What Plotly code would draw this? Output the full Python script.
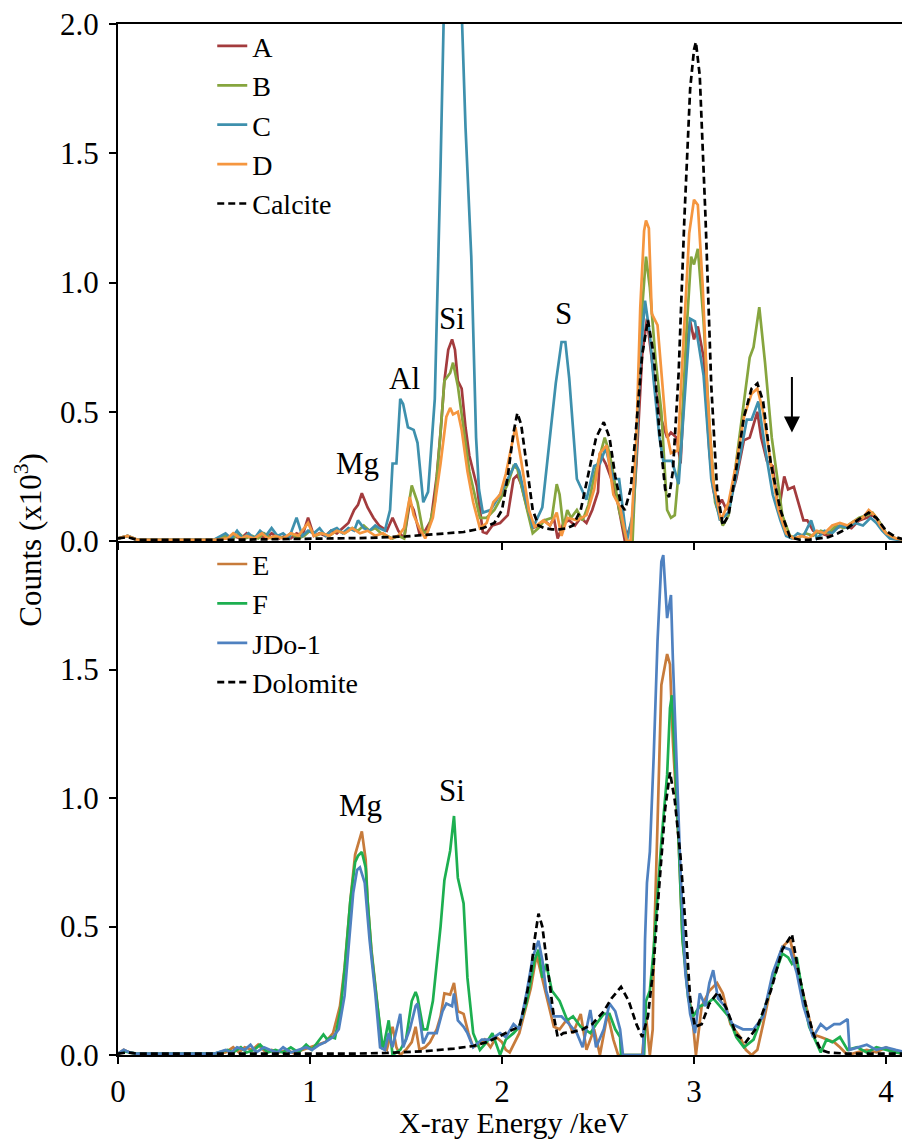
import plotly.graph_objects as go

# ---------------- data (energy in keV, counts in x10^3) ----------------
# Top panel
A_x = [0.00,0.05,0.10,0.20,0.30,0.40,0.50,0.56,0.60,0.64,0.67,0.70,0.74,0.77,0.80,0.84,0.87,0.90,0.93,0.96,0.99,1.02,1.05,1.08,1.11,1.14,1.17,1.20,1.23,1.25,1.27,1.30,1.33,1.36,1.40,1.43,1.46,1.49,1.52,1.54,1.57,1.60,1.63,1.66,1.68,1.70,1.72,1.74,1.755,1.77,1.79,1.81,1.83,1.87,1.90,1.92,1.95,1.99,2.03,2.06,2.08,2.10,2.13,2.16,2.19,2.22,2.25,2.27,2.29,2.32,2.35,2.38,2.41,2.44,2.47,2.50,2.51,2.54,2.57,2.60,2.64,2.68,2.70,2.73,2.755,2.78,2.80,2.83,2.86,2.88,2.91,2.93,2.96,2.98,3.00,3.02,3.05,3.08,3.10,3.12,3.145,3.17,3.19,3.22,3.26,3.29,3.33,3.35,3.38,3.41,3.44,3.47,3.49,3.52,3.54,3.57,3.59,3.62,3.66,3.70,3.74,3.78,3.82,3.86,3.90,3.93,3.96,4.00,4.05,4.10,4.14]
A_y = [0.01,0.02,0.005,0.005,0.005,0.005,0.005,0.01,0.02,0.01,0.03,0.01,0.02,0.01,0.03,0.01,0.02,0.01,0.03,0.02,0.09,0.02,0.03,0.02,0.04,0.03,0.05,0.07,0.12,0.14,0.185,0.13,0.09,0.06,0.04,0.09,0.04,0.01,0.15,0.12,0.03,0.04,0.08,0.25,0.42,0.62,0.74,0.78,0.74,0.62,0.59,0.44,0.33,0.21,0.035,0.03,0.06,0.07,0.10,0.24,0.255,0.22,0.13,0.05,0.06,0.08,0.06,0.09,0.01,0.07,0.08,0.06,0.09,0.07,0.12,0.19,0.34,0.30,0.24,0.16,0.0,0.08,0.30,0.72,0.86,0.70,0.58,0.47,0.40,0.42,0.40,0.30,0.74,0.85,0.78,0.83,0.71,0.35,0.20,0.13,0.16,0.12,0.16,0.24,0.39,0.40,0.50,0.40,0.31,0.29,0.11,0.25,0.20,0.21,0.16,0.08,0.08,0.04,0.03,0.02,0.05,0.06,0.05,0.08,0.09,0.10,0.08,0.03,0.01,0.005,0.005]

B_x = [0.00,0.05,0.10,0.20,0.30,0.40,0.50,0.56,0.60,0.63,0.66,0.70,0.73,0.76,0.80,0.83,0.87,0.90,0.94,0.97,1.00,1.03,1.06,1.10,1.14,1.18,1.22,1.25,1.28,1.31,1.34,1.37,1.40,1.43,1.46,1.49,1.51,1.53,1.56,1.59,1.615,1.65,1.68,1.70,1.73,1.745,1.77,1.80,1.83,1.885,1.92,1.96,1.99,2.03,2.06,2.08,2.10,2.13,2.16,2.19,2.22,2.26,2.285,2.30,2.32,2.34,2.36,2.39,2.42,2.45,2.48,2.51,2.535,2.56,2.58,2.61,2.65,2.68,2.70,2.72,2.75,2.77,2.80,2.83,2.86,2.88,2.90,2.93,2.96,2.985,3.00,3.02,3.05,3.08,3.11,3.15,3.18,3.21,3.25,3.29,3.31,3.34,3.37,3.405,3.44,3.46,3.50,3.54,3.58,3.62,3.66,3.70,3.74,3.78,3.82,3.86,3.90,3.93,3.96,4.00,4.05,4.10,4.14]
B_y = [0.01,0.02,0.005,0.005,0.005,0.005,0.005,0.02,0.01,0.03,0.01,0.02,0.01,0.03,0.01,0.02,0.01,0.03,0.01,0.02,0.04,0.02,0.03,0.02,0.04,0.03,0.05,0.04,0.06,0.04,0.05,0.03,0.02,0.01,0.02,0.01,0.12,0.215,0.15,0.03,0.04,0.15,0.42,0.62,0.65,0.69,0.60,0.43,0.27,0.09,0.09,0.12,0.16,0.22,0.29,0.28,0.22,0.13,0.03,0.05,0.08,0.09,0.22,0.18,0.05,0.12,0.09,0.12,0.08,0.14,0.25,0.33,0.40,0.34,0.26,0.12,0.0,0.0,0.35,0.80,1.10,0.98,0.70,0.50,0.12,0.09,0.10,0.35,0.80,1.10,1.07,1.13,0.85,0.45,0.15,0.06,0.10,0.25,0.48,0.71,0.75,0.905,0.69,0.40,0.21,0.10,0.02,0.01,0.03,0.02,0.04,0.03,0.06,0.05,0.07,0.09,0.10,0.11,0.08,0.03,0.01,0.005,0.005]

C_x = [0.00,0.05,0.10,0.20,0.30,0.40,0.50,0.56,0.59,0.62,0.65,0.68,0.71,0.74,0.77,0.80,0.83,0.86,0.89,0.93,0.96,0.99,1.02,1.05,1.08,1.11,1.14,1.17,1.20,1.23,1.25,1.28,1.31,1.34,1.36,1.39,1.417,1.43,1.45,1.47,1.485,1.51,1.54,1.56,1.59,1.615,1.65,1.68,1.71,1.77,1.81,1.84,1.865,1.88,1.90,1.94,1.99,2.03,2.07,2.09,2.12,2.15,2.16,2.21,2.25,2.28,2.31,2.33,2.35,2.39,2.44,2.48,2.51,2.54,2.58,2.61,2.65,2.68,2.70,2.72,2.745,2.77,2.79,2.82,2.84,2.885,2.92,2.96,2.98,3.005,3.05,3.09,3.135,3.18,3.23,3.275,3.30,3.335,3.37,3.41,3.45,3.48,3.51,3.54,3.57,3.59,3.61,3.64,3.68,3.72,3.76,3.80,3.84,3.88,3.92,3.95,3.98,4.02,4.06,4.10,4.14]
C_y = [0.01,0.02,0.005,0.005,0.005,0.005,0.005,0.03,0.01,0.04,0.01,0.03,0.01,0.04,0.02,0.05,0.02,0.03,0.01,0.09,0.02,0.04,0.03,0.05,0.02,0.04,0.05,0.03,0.05,0.04,0.08,0.05,0.04,0.06,0.05,0.04,0.12,0.30,0.30,0.55,0.53,0.44,0.43,0.38,0.15,0.19,0.55,1.45,2.50,2.50,1.60,1.10,0.40,0.20,0.11,0.12,0.18,0.24,0.30,0.27,0.17,0.09,0.05,0.13,0.40,0.61,0.77,0.77,0.63,0.24,0.16,0.29,0.30,0.36,0.24,0.24,0.0,0.10,0.35,0.70,0.93,0.80,0.62,0.40,0.31,0.31,0.22,0.65,0.86,0.85,0.64,0.24,0.08,0.11,0.29,0.47,0.47,0.54,0.36,0.18,0.08,0.02,0.01,0.03,0.02,0.05,0.08,0.01,0.04,0.03,0.06,0.05,0.07,0.06,0.09,0.07,0.04,0.01,0.005,0.005,0.005]

D_x = [0.00,0.05,0.10,0.20,0.30,0.40,0.50,0.57,0.60,0.64,0.67,0.71,0.75,0.78,0.82,0.86,0.90,0.94,0.99,1.02,1.06,1.10,1.14,1.18,1.22,1.26,1.30,1.34,1.38,1.42,1.46,1.49,1.52,1.54,1.57,1.60,1.64,1.68,1.71,1.73,1.745,1.77,1.79,1.82,1.85,1.885,1.92,1.955,1.99,2.02,2.07,2.10,2.14,2.17,2.215,2.25,2.285,2.31,2.34,2.39,2.44,2.48,2.51,2.545,2.58,2.615,2.65,2.67,2.70,2.72,2.74,2.75,2.765,2.78,2.81,2.855,2.88,2.915,2.94,2.975,3.00,3.02,3.045,3.07,3.10,3.14,3.18,3.22,3.26,3.30,3.33,3.36,3.40,3.44,3.48,3.52,3.56,3.60,3.64,3.68,3.72,3.76,3.80,3.84,3.88,3.91,3.94,3.97,4.00,4.05,4.10,4.14]
D_y = [0.01,0.02,0.005,0.005,0.005,0.005,0.005,0.01,0.03,0.01,0.02,0.01,0.03,0.01,0.02,0.01,0.03,0.02,0.07,0.02,0.03,0.02,0.04,0.03,0.05,0.03,0.04,0.02,0.03,0.01,0.02,0.05,0.17,0.10,0.05,0.01,0.09,0.30,0.48,0.515,0.49,0.50,0.43,0.27,0.15,0.05,0.07,0.15,0.18,0.26,0.44,0.31,0.12,0.055,0.08,0.06,0.11,0.02,0.09,0.08,0.10,0.20,0.34,0.37,0.18,0.13,0.0,0.0,0.40,0.90,1.20,1.24,1.21,0.88,0.835,0.43,0.34,0.35,0.71,1.19,1.32,1.30,0.99,0.57,0.23,0.08,0.15,0.30,0.48,0.57,0.59,0.50,0.30,0.12,0.03,0.01,0.02,0.01,0.04,0.03,0.06,0.07,0.06,0.08,0.09,0.12,0.10,0.06,0.03,0.01,0.005,0.005]

Calcite_x = [0.00,0.05,0.10,0.30,0.60,0.90,1.10,1.30,1.50,1.70,1.80,1.90,1.96,2.00,2.03,2.06,2.08,2.10,2.13,2.16,2.19,2.22,2.26,2.30,2.34,2.37,2.41,2.45,2.49,2.53,2.56,2.59,2.62,2.64,2.67,2.70,2.73,2.76,2.79,2.82,2.85,2.87,2.89,2.92,2.95,2.98,3.00,3.01,3.03,3.06,3.09,3.12,3.15,3.18,3.22,3.26,3.30,3.33,3.36,3.40,3.45,3.50,3.55,3.60,3.65,3.70,3.75,3.80,3.85,3.91,3.95,4.00,4.05,4.10,4.14]
Calcite_y = [0.01,0.015,0.005,0.005,0.005,0.008,0.01,0.012,0.018,0.028,0.035,0.05,0.07,0.12,0.25,0.42,0.495,0.45,0.28,0.12,0.06,0.05,0.045,0.045,0.05,0.06,0.12,0.26,0.40,0.46,0.40,0.25,0.14,0.12,0.20,0.45,0.72,0.855,0.72,0.42,0.20,0.17,0.27,0.65,1.25,1.75,1.90,1.93,1.80,1.25,0.60,0.20,0.06,0.10,0.28,0.48,0.59,0.61,0.54,0.30,0.12,0.015,0.005,0.005,0.01,0.015,0.03,0.05,0.08,0.11,0.09,0.04,0.015,0.005,0.005]

# Bottom panel
E_x = [0.00,0.03,0.06,0.10,0.30,0.50,0.56,0.60,0.63,0.66,0.70,0.73,0.77,0.80,0.84,0.88,0.92,0.96,1.00,1.04,1.08,1.12,1.156,1.18,1.21,1.235,1.27,1.29,1.30,1.32,1.35,1.375,1.40,1.43,1.45,1.47,1.50,1.53,1.55,1.57,1.60,1.625,1.66,1.68,1.70,1.73,1.75,1.77,1.80,1.825,1.85,1.88,1.91,1.94,1.97,2.00,2.02,2.04,2.09,2.12,2.15,2.18,2.21,2.24,2.27,2.30,2.34,2.37,2.41,2.44,2.48,2.51,2.55,2.58,2.605,2.65,2.70,2.73,2.75,2.77,2.785,2.79,2.81,2.83,2.86,2.875,2.89,2.92,2.94,2.97,2.995,3.01,3.04,3.08,3.12,3.15,3.19,3.24,3.27,3.30,3.33,3.36,3.41,3.46,3.50,3.535,3.58,3.62,3.66,3.70,3.73,3.76,3.80,3.85,3.90,3.95,4.00,4.05,4.10,4.14]
E_y = [0.005,0.02,0.01,0.005,0.005,0.005,0.01,0.03,0.01,0.03,0.02,0.04,0.01,0.02,0.01,0.02,0.005,0.02,0.03,0.04,0.05,0.085,0.19,0.34,0.60,0.78,0.87,0.76,0.60,0.41,0.21,0.03,0.02,0.11,0.03,0.0,0.02,0.05,0.11,0.02,0.03,0.05,0.10,0.15,0.24,0.235,0.28,0.17,0.16,0.085,0.03,0.04,0.06,0.03,0.07,0.05,0.02,0.01,0.085,0.17,0.26,0.39,0.30,0.21,0.11,0.10,0.14,0.085,0.16,0.02,0.10,0.0,0.16,0.06,0.0,0.0,0.0,0.0,0.15,0.0,0.10,0.38,0.90,1.44,1.56,1.52,1.22,0.83,0.45,0.25,0.12,0.0,0.19,0.25,0.28,0.24,0.12,0.07,0.02,0.0,0.02,0.12,0.30,0.42,0.45,0.34,0.21,0.08,0.07,0.06,0.05,0.03,0.0,0.01,0.02,0.01,0.03,0.01,0.005,0.005]

F_x = [0.00,0.03,0.06,0.10,0.30,0.50,0.57,0.60,0.64,0.67,0.71,0.74,0.78,0.82,0.86,0.90,0.94,0.98,1.01,1.04,1.07,1.09,1.11,1.13,1.16,1.18,1.21,1.235,1.25,1.27,1.29,1.30,1.32,1.35,1.38,1.41,1.43,1.47,1.50,1.53,1.55,1.56,1.59,1.61,1.64,1.68,1.70,1.73,1.75,1.77,1.80,1.82,1.85,1.885,1.92,1.95,1.99,2.02,2.06,2.09,2.13,2.17,2.19,2.21,2.23,2.26,2.30,2.34,2.37,2.41,2.46,2.49,2.53,2.56,2.59,2.615,2.62,2.70,2.74,2.75,2.77,2.79,2.81,2.83,2.86,2.875,2.885,2.90,2.92,2.94,2.97,2.995,3.03,3.07,3.10,3.135,3.18,3.22,3.26,3.31,3.36,3.41,3.46,3.49,3.51,3.535,3.57,3.60,3.66,3.69,3.72,3.76,3.80,3.85,3.90,3.95,4.00,4.05,4.10,4.14]
F_y = [0.005,0.015,0.01,0.005,0.005,0.005,0.02,0.01,0.03,0.01,0.02,0.04,0.01,0.02,0.01,0.03,0.01,0.04,0.02,0.05,0.08,0.06,0.07,0.065,0.18,0.33,0.60,0.75,0.775,0.79,0.73,0.60,0.40,0.20,0.02,0.135,0.0,0.02,0.06,0.21,0.245,0.225,0.10,0.10,0.21,0.50,0.68,0.795,0.93,0.69,0.59,0.30,0.085,0.02,0.05,0.085,0.0,0.06,0.085,0.11,0.21,0.37,0.41,0.30,0.355,0.25,0.21,0.135,0.15,0.11,0.085,0.12,0.16,0.16,0.10,0.07,0.0,0.0,0.0,0.21,0.25,0.41,0.64,0.83,1.09,1.35,1.40,1.16,0.83,0.45,0.22,0.15,0.19,0.20,0.22,0.19,0.15,0.07,0.03,0.06,0.16,0.29,0.395,0.38,0.355,0.38,0.22,0.11,0.01,0.06,0.05,0.07,0.02,0.03,0.01,0.03,0.02,0.01,0.005,0.005]

J_x = [0.00,0.03,0.06,0.10,0.30,0.50,0.56,0.59,0.62,0.66,0.69,0.72,0.76,0.79,0.83,0.86,0.90,0.94,0.98,1.01,1.05,1.08,1.12,1.15,1.18,1.20,1.225,1.245,1.26,1.285,1.31,1.34,1.365,1.39,1.41,1.43,1.47,1.485,1.52,1.55,1.56,1.59,1.615,1.66,1.69,1.71,1.74,1.75,1.77,1.80,1.82,1.85,1.895,1.94,1.99,2.02,2.06,2.09,2.13,2.16,2.19,2.21,2.23,2.27,2.31,2.35,2.39,2.42,2.46,2.49,2.53,2.56,2.59,2.615,2.63,2.735,2.745,2.755,2.77,2.79,2.81,2.83,2.84,2.86,2.88,2.89,2.91,2.93,2.955,2.98,3.005,3.03,3.06,3.08,3.10,3.125,3.16,3.20,3.255,3.31,3.36,3.41,3.46,3.50,3.535,3.57,3.62,3.66,3.69,3.73,3.76,3.80,3.81,3.85,3.90,3.95,4.00,4.05,4.10,4.14]
J_y = [0.005,0.02,0.01,0.005,0.005,0.005,0.02,0.01,0.03,0.02,0.04,0.01,0.03,0.02,0.01,0.03,0.01,0.02,0.03,0.02,0.04,0.05,0.07,0.10,0.23,0.41,0.63,0.72,0.73,0.67,0.45,0.24,0.03,0.02,0.085,0.03,0.16,0.03,0.10,0.19,0.20,0.045,0.085,0.085,0.17,0.20,0.19,0.24,0.135,0.11,0.085,0.03,0.06,0.06,0.085,0.07,0.12,0.10,0.25,0.38,0.445,0.37,0.25,0.15,0.15,0.12,0.085,0.03,0.175,0.03,0.10,0.20,0.17,0.10,0.0,0.0,0.45,0.67,0.79,1.16,1.61,1.92,1.945,1.70,1.79,1.54,1.09,0.71,0.32,0.16,0.085,0.24,0.19,0.28,0.33,0.22,0.19,0.12,0.10,0.10,0.15,0.32,0.42,0.41,0.32,0.19,0.07,0.12,0.10,0.12,0.12,0.14,0.02,0.03,0.04,0.02,0.03,0.02,0.01,0.005]

Dol_x = [0.00,0.05,0.10,0.50,0.90,1.20,1.40,1.60,1.75,1.85,1.92,1.98,2.03,2.06,2.09,2.12,2.15,2.17,2.19,2.21,2.23,2.25,2.27,2.29,2.32,2.37,2.42,2.47,2.53,2.57,2.62,2.66,2.70,2.73,2.76,2.79,2.81,2.85,2.875,2.90,2.93,2.955,2.98,3.005,3.04,3.08,3.125,3.17,3.22,3.27,3.33,3.40,3.46,3.51,3.54,3.58,3.62,3.66,3.70,3.80,4.00,4.14]
Dol_y = [0.005,0.01,0.005,0.005,0.005,0.005,0.008,0.015,0.025,0.035,0.05,0.07,0.09,0.10,0.11,0.20,0.32,0.45,0.55,0.50,0.38,0.25,0.15,0.07,0.085,0.09,0.10,0.12,0.17,0.22,0.265,0.21,0.12,0.07,0.15,0.35,0.57,0.96,1.10,0.99,0.77,0.51,0.22,0.11,0.12,0.20,0.245,0.18,0.08,0.05,0.11,0.25,0.41,0.47,0.34,0.20,0.085,0.02,0.01,0.005,0.005,0.005]

top_names = ["A", "B", "C", "D", "Calcite"]
top_colors = ["#A33B3D", "#86A53E", "#3E90AD", "#F5963F", "#000000"]
bottom_names = ["E", "F", "JDo-1", "Dolomite"]
bottom_colors = ["#C77B3B", "#1DAF50", "#4F81C0", "#000000"]

top_series = [(A_x, A_y), (B_x, B_y), (C_x, C_y), (D_x, D_y), (Calcite_x, Calcite_y)]
bottom_series = [(E_x, E_y), (F_x, F_y), (J_x, J_y), (Dol_x, Dol_y)]

x_ticks = [0, 1, 2, 3, 4]
top_yticks = [0, 0.5, 1.0, 1.5, 2.0]
bottom_yticks = [0, 0.5, 1.0, 1.5]

SERIF = "Liberation Serif"
FS = 31      # ticks, element labels, y title
XFS = 30     # x title
LFS = 28     # legend text

fig = go.Figure()

for name, color, (xs, ys) in zip(top_names, top_colors, top_series):
    dash = "7px,4px" if name == "Calcite" else "solid"
    fig.add_trace(go.Scatter(x=xs, y=ys, mode="lines", name=name,
                             line=dict(color=color, width=2.7, dash=dash),
                             xaxis="x2", yaxis="y2", legend="legend"))

for name, color, (xs, ys) in zip(bottom_names, bottom_colors, bottom_series):
    dash = "7px,4px" if name == "Dolomite" else "solid"
    fig.add_trace(go.Scatter(x=xs, y=ys, mode="lines", name=name,
                             line=dict(color=color, width=2.7, dash=dash),
                             xaxis="x", yaxis="y", legend="legend2"))

axis_common = dict(showline=True, linecolor="black", linewidth=2, ticks="outside",
                   ticklen=7, tickwidth=2, tickcolor="black", showgrid=False,
                   zeroline=False, ticklabeloverflow="allow",
                   tickfont=dict(family=SERIF, size=FS, color="black"))

split = 0.4985
fig.update_layout(
    template="none",
    width=910, height=1140,
    margin=dict(l=110, r=8, t=16, b=93, autoexpand=False),
    paper_bgcolor="white", plot_bgcolor="white",
    font=dict(family=SERIF, size=FS, color="black"),
    xaxis=dict(range=[0, 4.125], domain=[0, 1], anchor="y", tickvals=x_ticks,
               ticktext=[str(t) for t in x_ticks], ticklabelstandoff=1, **axis_common),
    xaxis2=dict(range=[0, 4.125], domain=[0, 1], anchor="y2", matches="x",
                tickvals=x_ticks, showticklabels=False, mirror=True, **axis_common),
    yaxis=dict(range=[0, 2.0], domain=[0, split], anchor="x", tickvals=bottom_yticks,
               ticktext=["%.1f" % t for t in bottom_yticks], ticklabelstandoff=4, **axis_common),
    yaxis2=dict(range=[0, 2.0], domain=[split, 1], anchor="x2", tickvals=top_yticks,
                ticktext=["%.1f" % t for t in top_yticks], ticklabelstandoff=4, **axis_common),
    legend=dict(x=0.119, y=1.0027, xanchor="left", yanchor="top", bgcolor="rgba(0,0,0,0)",
                font=dict(family=SERIF, size=LFS, color="black"), borderwidth=0),
    legend2=dict(x=0.119, y=0.5002, xanchor="left", yanchor="top", bgcolor="rgba(0,0,0,0)",
                 font=dict(family=SERIF, size=LFS, color="black"), borderwidth=0),
    showlegend=True,
)

labels_top = [("Mg", 1.245, 0.30), ("Al", 1.49, 0.63), ("Si", 1.74, 0.86), ("S", 2.32, 0.88)]
labels_bottom = [("Mg", 1.265, 0.97), ("Si", 1.74, 1.03)]
for t, x, y in labels_top:
    fig.add_annotation(text=t, x=x, y=y, xref="x2", yref="y2", showarrow=False,
                       font=dict(family=SERIF, size=FS, color="black"))
for t, x, y in labels_bottom:
    fig.add_annotation(text=t, x=x, y=y, xref="x", yref="y", showarrow=False,
                       font=dict(family=SERIF, size=FS, color="black"))

# arrow marking the extra peak in A
fig.add_annotation(x=3.51, y=0.42, ax=3.51, ay=0.64, xref="x2", yref="y2", axref="x2", ayref="y2",
                   text="", showarrow=True, arrowhead=2, arrowsize=1.6, arrowwidth=2,
                   arrowcolor="black")

# x-axis title (bottom edge of the figure)
fig.add_annotation(text="X-ray Energy /keV", xref="paper", yref="paper",
                   x=0.5, y=-0.0824, xanchor="center", yanchor="bottom", borderpad=0,
                   showarrow=False, font=dict(family=SERIF, size=XFS, color="black"))

# y-axis title spanning both panels
fig.add_annotation(text="Counts (x10<sup>3</sup>)", xref="paper", yref="paper",
                   x=-0.114, y=0.4995, xanchor="center", yanchor="middle", textangle=-90,
                   showarrow=False, font=dict(family=SERIF, size=FS, color="black"))

fig.write_html("out.html")
